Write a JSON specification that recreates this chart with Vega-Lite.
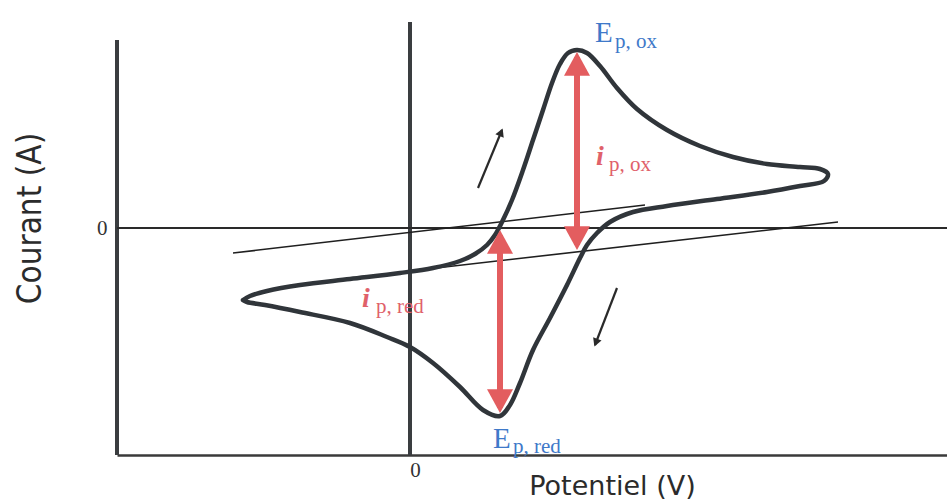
{
  "$schema": "https://vega.github.io/schema/vega-lite/v6.json",
  "width": 830,
  "height": 435,
  "autosize": "none",
  "padding": {"left": 117, "top": 20, "right": 0, "bottom": 46},
  "background": "white",
  "config": {"view": {"stroke": null}},
  "datasets": {
    "cv": [
      {"o": 0, "E": -1.67, "I": -0.72}, {"o": 1, "E": -1.60, "I": -0.68}, {"o": 2, "E": -1.43, "I": -0.63},
      {"o": 3, "E": -1.10, "I": -0.57}, {"o": 4, "E": -0.60, "I": -0.51}, {"o": 5, "E": -0.10, "I": -0.45},
      {"o": 6, "E": 0.23, "I": -0.40}, {"o": 7, "E": 0.50, "I": -0.33}, {"o": 8, "E": 0.65, "I": -0.26},
      {"o": 9, "E": 0.77, "I": -0.17}, {"o": 10, "E": 0.85, "I": -0.07}, {"o": 11, "E": 0.92, "I": 0.06},
      {"o": 12, "E": 1.02, "I": 0.28}, {"o": 13, "E": 1.13, "I": 0.58}, {"o": 14, "E": 1.23, "I": 0.88},
      {"o": 15, "E": 1.33, "I": 1.18}, {"o": 16, "E": 1.42, "I": 1.45}, {"o": 17, "E": 1.50, "I": 1.64},
      {"o": 18, "E": 1.58, "I": 1.75}, {"o": 19, "E": 1.67, "I": 1.78}, {"o": 20, "E": 1.77, "I": 1.75},
      {"o": 21, "E": 1.90, "I": 1.62}, {"o": 22, "E": 2.07, "I": 1.40}, {"o": 23, "E": 2.27, "I": 1.19},
      {"o": 24, "E": 2.57, "I": 0.98}, {"o": 25, "E": 2.90, "I": 0.82}, {"o": 26, "E": 3.23, "I": 0.71},
      {"o": 27, "E": 3.57, "I": 0.64}, {"o": 28, "E": 3.90, "I": 0.61}, {"o": 29, "E": 4.10, "I": 0.59},
      {"o": 30, "E": 4.18, "I": 0.54}, {"o": 31, "E": 4.14, "I": 0.47}, {"o": 32, "E": 3.90, "I": 0.42},
      {"o": 33, "E": 3.57, "I": 0.36}, {"o": 34, "E": 3.07, "I": 0.29}, {"o": 35, "E": 2.57, "I": 0.22},
      {"o": 36, "E": 2.23, "I": 0.16}, {"o": 37, "E": 2.00, "I": 0.06}, {"o": 38, "E": 1.87, "I": -0.05},
      {"o": 39, "E": 1.77, "I": -0.17}, {"o": 40, "E": 1.70, "I": -0.30}, {"o": 41, "E": 1.57, "I": -0.57},
      {"o": 42, "E": 1.40, "I": -0.90}, {"o": 43, "E": 1.23, "I": -1.22}, {"o": 44, "E": 1.10, "I": -1.55},
      {"o": 45, "E": 1.00, "I": -1.77}, {"o": 46, "E": 0.90, "I": -1.88}, {"o": 47, "E": 0.73, "I": -1.82},
      {"o": 48, "E": 0.50, "I": -1.59}, {"o": 49, "E": 0.23, "I": -1.35}, {"o": 50, "E": 0.00, "I": -1.19},
      {"o": 51, "E": -0.23, "I": -1.09}, {"o": 52, "E": -0.60, "I": -0.95}, {"o": 53, "E": -1.10, "I": -0.84},
      {"o": 54, "E": -1.45, "I": -0.77}, {"o": 55, "E": -1.63, "I": -0.74}, {"o": 56, "E": -1.67, "I": -0.72}
    ],
    "axes": [
      {"E": -2.93, "I": 1.88, "E2": -2.93, "I2": -2.27},
      {"E": 0, "I": 2.06, "E2": 0, "I2": -2.27}
    ],
    "zeroI": [
      {"E": -2.93, "I": 0, "E2": 5.37, "I2": 0}
    ],
    "baselines": [
      {"E": -1.77, "I": -0.25, "E2": 2.35, "I2": 0.23},
      {"E": 0.0, "I": -0.43, "E2": 4.28, "I2": 0.06}
    ],
    "peaks": [
      {"peak": "ox", "end": "top", "E": 1.67, "I": 1.71},
      {"peak": "ox", "end": "bottom", "E": 1.67, "I": -0.17},
      {"peak": "red", "end": "top", "E": 0.90, "I": -0.07},
      {"peak": "red", "end": "bottom", "E": 0.90, "I": -1.80}
    ],
    "sweeps": [
      {"sweep": "aller", "part": "tail", "E": 0.68, "I": 0.40},
      {"sweep": "aller", "part": "tip", "E": 0.92, "I": 0.98},
      {"sweep": "retour", "part": "tail", "E": 2.07, "I": -0.60},
      {"sweep": "retour", "part": "tip", "E": 1.85, "I": -1.17}
    ],
    "mainLetters": [
      {"kind": "E", "text": "E", "E": 1.85, "I": 1.86},
      {"kind": "E", "text": "E", "E": 0.83, "I": -2.20},
      {"kind": "i", "text": "i", "E": 1.86, "I": 0.63},
      {"kind": "i", "text": "i", "E": -0.48, "I": -0.79}
    ],
    "subscripts": [
      {"kind": "E", "text": "p, ox", "E": 2.05, "I": 1.80},
      {"kind": "E", "text": "p, red", "E": 1.03, "I": -2.25},
      {"kind": "i", "text": "p, ox", "E": 1.99, "I": 0.57},
      {"kind": "i", "text": "p, red", "E": -0.34, "I": -0.85}
    ]
  },
  "encoding": {
    "x": {
      "field": "E", "type": "quantitative",
      "scale": {"domain": [-2.93, 5.37], "nice": false, "zero": false},
      "axis": {
        "values": [0], "title": "Potentiel (V)", "grid": false, "ticks": false,
        "domain": true, "domainColor": "#3a3a3a", "domainWidth": 2.5,
        "labelFont": "Liberation Serif", "labelFontSize": 21, "labelColor": "#333333",
        "labelPadding": 4, "labelOffset": 5,
        "titleFont": "DejaVu Sans", "titleFontSize": 27, "titleFontWeight": "normal",
        "titleColor": "#2b2b2b", "titleX": 495, "titleY": 31,
        "titleAlign": "center", "titleBaseline": "middle"
      }
    },
    "y": {
      "field": "I", "type": "quantitative",
      "scale": {"domain": [-2.27, 2.08], "nice": false, "zero": false},
      "axis": {
        "values": [0], "title": "Courant (A)", "grid": false, "ticks": false, "domain": false,
        "labelFont": "Liberation Serif", "labelFontSize": 21, "labelColor": "#333333",
        "labelPadding": 10,
        "titleFont": "Liberation Sans Narrow, DejaVu Sans Condensed, Liberation Sans",
        "titleFontSize": 33, "titleFontWeight": "normal", "titleColor": "#2b2b2b",
        "titleAngle": -90, "titleX": -87, "titleY": 198,
        "titleAlign": "center", "titleBaseline": "middle"
      }
    }
  },
  "layer": [
    {
      "data": {"name": "axes"},
      "mark": {"type": "rule", "color": "#3a3d40", "strokeWidth": 4},
      "encoding": {"x2": {"field": "E2"}, "y2": {"field": "I2"}}
    },
    {
      "data": {"name": "zeroI"},
      "mark": {"type": "rule", "color": "#2a2a2a", "strokeWidth": 2},
      "encoding": {"x2": {"field": "E2"}, "y2": {"field": "I2"}}
    },
    {
      "data": {"name": "baselines"},
      "mark": {"type": "rule", "color": "#1f1f1f", "strokeWidth": 1.6},
      "encoding": {"x2": {"field": "E2"}, "y2": {"field": "I2"}}
    },
    {
      "data": {"name": "cv"},
      "mark": {"type": "line", "color": "#30353a", "strokeWidth": 4.5, "interpolate": "catmull-rom", "strokeJoin": "round", "strokeCap": "round"},
      "encoding": {"order": {"field": "o", "type": "quantitative"}}
    },
    {
      "data": {"name": "peaks"},
      "mark": {"type": "line", "color": "#e35d5f", "strokeWidth": 6, "strokeCap": "butt"},
      "encoding": {"detail": {"field": "peak"}, "order": {"field": "end"}}
    },
    {
      "data": {"name": "peaks"},
      "mark": {"type": "point", "filled": true, "color": "#e35d5f", "opacity": 1, "size": 2500, "strokeWidth": 0},
      "encoding": {
        "shape": {
          "field": "end", "type": "nominal", "legend": null,
          "scale": {"domain": ["top", "bottom"], "range": ["M0,-0.2L0.52,0.75L-0.52,0.75Z", "M0,0.2L0.52,-0.75L-0.52,-0.75Z"]}
        }
      }
    },
    {
      "data": {"name": "sweeps"},
      "mark": {"type": "line", "color": "#2a2a2a", "strokeWidth": 2.2},
      "encoding": {"detail": {"field": "sweep"}}
    },
    {
      "data": {"name": "sweeps"},
      "transform": [{"filter": "datum.sweep === 'aller' && datum.part === 'tip'"}],
      "mark": {"type": "point", "filled": true, "color": "#2a2a2a", "opacity": 1, "size": 300, "strokeWidth": 0, "angle": 22, "shape": "M0,-0.2L0.52,0.75L-0.52,0.75Z"}
    },
    {
      "data": {"name": "sweeps"},
      "transform": [{"filter": "datum.sweep === 'retour' && datum.part === 'tip'"}],
      "mark": {"type": "point", "filled": true, "color": "#2a2a2a", "opacity": 1, "size": 300, "strokeWidth": 0, "angle": 21, "shape": "M0,0.2L0.52,-0.75L-0.52,-0.75Z"}
    },
    {
      "data": {"name": "mainLetters"},
      "transform": [{"filter": "datum.kind === 'E'"}],
      "mark": {"type": "text", "align": "left", "baseline": "alphabetic", "font": "Liberation Serif", "fontSize": 29, "color": "#3f79c9"},
      "encoding": {"text": {"field": "text"}}
    },
    {
      "data": {"name": "mainLetters"},
      "transform": [{"filter": "datum.kind === 'i'"}],
      "mark": {"type": "text", "align": "left", "baseline": "alphabetic", "font": "Liberation Serif", "fontSize": 28, "fontStyle": "italic", "fontWeight": "bold", "color": "#e0616a"},
      "encoding": {"text": {"field": "text"}}
    },
    {
      "data": {"name": "subscripts"},
      "transform": [{"filter": "datum.kind === 'E'"}],
      "mark": {"type": "text", "align": "left", "baseline": "alphabetic", "font": "Liberation Serif", "fontSize": 21, "color": "#3f79c9"},
      "encoding": {"text": {"field": "text"}}
    },
    {
      "data": {"name": "subscripts"},
      "transform": [{"filter": "datum.kind === 'i'"}],
      "mark": {"type": "text", "align": "left", "baseline": "alphabetic", "font": "Liberation Serif", "fontSize": 21, "color": "#e0616a"},
      "encoding": {"text": {"field": "text"}}
    }
  ]
}
